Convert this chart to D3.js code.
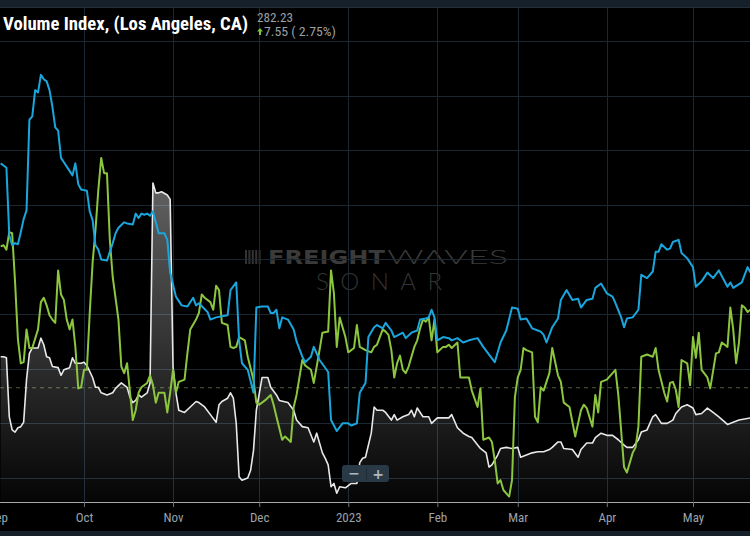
<!DOCTYPE html>
<html>
<head>
<meta charset="utf-8">
<script src="https://cdn.jsdelivr.net/npm/d3@7"></script>
<style>
  html, body { margin: 0; padding: 0; background: #000; }
  svg { display: block; }
</style>
</head>
<body>
<div id="chart"></div>
<script>
// data: [day since 2022-09-01, index value]
const startDate = new Date(Date.UTC(2022, 8, 1));
const tickLabels = ["Sep", "Oct", "Nov", "Dec", "2023", "Feb", "Mar", "Apr", "May"];
const refLevel = 132.6;

const blueSeries = [
  [1,338],[2,336],[3,334],[4,272],[5,263],[6,265],[7,264],[8,275],[9,287],[10,295],[11,378],[12,381],[13,405],[14,403],[15,419],[16,415],[17,413],[18,405],[19,390],[20,371],[21,368],[22,343],[23,339],[24,335],[26,327],[27,338],[28,319],[29,314],[31,313],[32,294],[33,286],[34,263],[35,259],[36,250],[38,249],[40,265],[41,274],[42,279],[44,284],[45,283],[47,282],[48,292],[49,288],[50,292],[51,291],[52,292],[53,290],[54,294],[55,284],[56,274],[58,274],[59,268],[60,238],[62,216],[64,208],[66,207],[68,215],[69,208],[70,210],[73,202],[74,195],[76,197],[80,199],[81,222],[83,229],[84,176],[85,155],[87,149],[89,128],[90,206],[92,207],[94,207],[95,201],[96,201],[97,204],[98,187],[99,197],[101,195],[103,186],[104,175],[106,161],[107,156],[109,161],[110,170],[112,158],[115,147],[116,103],[118,93],[120,100],[122,100],[123,98],[125,100],[126,128],[128,137],[129,179],[131,188],[132,190],[134,187],[135,192],[137,185],[138,179],[141,183],[142,178],[144,183],[146,185],[147,195],[149,196],[150,197],[151,204],[152,197],[153,176],[155,179],[157,178],[158,176],[160,178],[162,174],[164,176],[167,178],[169,170],[171,163],[173,156],[175,174],[177,185],[179,206],[181,205],[182,195],[184,196],[186,187],[188,185],[189,184],[190,181],[191,174],[193,188],[195,196],[196,213],[198,222],[200,213],[202,214],[203,206],[205,213],[207,214],[208,224],[210,228],[212,219],[214,216],[215,210],[217,197],[218,188],[219,196],[221,197],[223,204],[224,236],[226,233],[228,239],[229,257],[230,257],[231,264],[233,259],[234,260],[235,266],[237,268],[238,256],[240,251],[242,243],[243,225],[245,230],[247,238],[249,233],[251,240],[254,225],[255,229],[256,224],[259,229],[261,243],[262,238]
];

const greenSeries = [
  [1,262],[2,263],[3,259],[4,275],[5,274],[6,230],[7,177],[8,155],[9,156],[10,186],[11,169],[12,169],[14,186],[15,211],[16,215],[17,208],[18,199],[19,195],[20,192],[21,240],[22,218],[23,213],[24,195],[25,186],[26,195],[27,170],[28,132],[29,133],[30,149],[31,149],[32,201],[33,247],[34,277],[35,314],[36,343],[37,329],[38,329],[39,268],[40,234],[42,195],[43,152],[44,146],[45,155],[47,103],[48,112],[49,128],[50,133],[52,137],[53,144],[54,135],[55,119],[56,128],[58,128],[59,110],[60,128],[61,149],[62,128],[63,138],[65,140],[66,164],[67,186],[69,195],[70,201],[71,218],[72,215],[74,211],[75,204],[76,226],[77,222],[78,192],[80,190],[81,170],[82,169],[83,170],[84,179],[86,176],[87,161],[89,140],[90,119],[91,117],[93,121],[95,126],[96,117],[97,106],[99,85],[100,88],[102,83],[103,115],[104,126],[106,158],[107,153],[109,149],[110,137],[111,152],[112,167],[113,183],[115,184],[116,240],[117,219],[118,170],[119,197],[121,179],[122,165],[124,169],[125,190],[126,170],[128,167],[130,165],[131,170],[132,172],[134,186],[135,184],[136,181],[137,167],[138,142],[139,155],[140,162],[141,149],[142,146],[143,152],[145,170],[146,176],[147,187],[148,195],[149,193],[150,197],[151,176],[152,195],[153,165],[155,170],[156,170],[157,172],[158,169],[160,174],[161,142],[162,142],[164,142],[165,130],[167,115],[168,132],[169,85],[171,87],[172,83],[173,66],[174,45],[175,48],[176,39],[178,33],[179,48],[180,124],[181,142],[182,149],[183,169],[184,167],[186,165],[187,106],[188,101],[189,133],[190,130],[192,146],[193,169],[195,144],[196,138],[197,119],[199,115],[201,88],[203,112],[204,117],[205,114],[207,97],[208,126],[209,110],[210,138],[212,140],[215,149],[216,126],[218,60],[219,55],[221,73],[222,78],[223,97],[224,161],[226,163],[228,161],[229,169],[230,149],[232,128],[233,120],[234,137],[235,138],[236,131],[237,115],[238,158],[240,155],[241,135],[242,179],[243,160],[244,183],[245,149],[247,142],[248,132],[250,164],[251,165],[252,174],[254,170],[255,206],[256,186],[257,155],[258,174],[259,208],[260,206],[261,202],[262,204]
];

const whiteSeries = [
  [1,161],[2,161],[3,160],[4,106],[5,94],[6,92],[7,96],[8,97],[9,101],[10,140],[11,164],[12,169],[14,169],[15,178],[16,172],[17,161],[18,160],[19,152],[21,151],[22,144],[23,149],[25,151],[26,160],[27,155],[29,155],[30,156],[31,153],[33,142],[34,133],[35,133],[36,128],[38,126],[40,128],[41,132],[43,137],[45,133],[46,124],[47,119],[48,121],[49,126],[50,124],[52,128],[53,137],[54,320],[55,311],[56,311],[57,312],[59,309],[60,305],[61,152],[62,128],[63,112],[65,110],[67,115],[69,120],[70,119],[72,115],[74,108],[76,101],[77,117],[78,120],[80,123],[81,128],[82,123],[83,100],[84,51],[85,48],[87,50],[88,57],[89,75],[90,112],[92,142],[94,142],[95,133],[97,126],[98,121],[101,119],[103,112],[104,103],[106,97],[108,96],[110,83],[111,91],[113,73],[114,68],[115,62],[116,42],[117,45],[118,36],[119,42],[121,41],[123,45],[125,45],[126,64],[127,68],[128,69],[130,91],[131,115],[132,112],[134,112],[135,110],[137,103],[138,108],[139,103],[141,106],[143,108],[144,112],[145,106],[146,114],[148,106],[150,106],[151,100],[153,105],[155,105],[157,105],[158,108],[160,96],[162,91],[164,88],[165,87],[168,77],[170,73],[171,60],[172,62],[174,71],[175,77],[177,78],[179,77],[181,78],[182,69],[184,71],[186,73],[188,74],[190,74],[192,76],[193,78],[195,83],[196,83],[197,77],[200,76],[202,69],[203,76],[205,82],[207,82],[208,87],[210,91],[212,89],[214,89],[216,85],[218,80],[219,78],[221,78],[223,85],[224,92],[226,94],[228,106],[229,108],[231,100],[233,100],[235,103],[236,109],[238,115],[240,117],[242,114],[243,108],[245,109],[247,114],[249,110],[251,106],[254,99],[256,101],[258,103],[262,105]
];

const gridValues = d3.range(50, 451, 50);

// dimensions
const w = 750;
const h = 536;
const plotTop = 7;
const plotBottom = 502;
const condensed = "'Liberation Sans Narrow', 'Roboto Condensed', 'Arial Narrow', Roboto, sans-serif";

const toDate = d => d3.utcDay.offset(startDate, d);

const svg = d3.select("#chart")
  .append("svg")
  .attr("width", w)
  .attr("height", h)
  .style("background", "#000");

// scales
const xScale = d3.scaleUtc()
  .domain([startDate, new Date(Date.UTC(2023, 4, 1))])
  .range([-2.2, 693]);
const yScale = d3.scaleLinear()
  .domain([0, 450])
  .range([532.6, 41]);

// header / footer bands
svg.append("rect").attr("x", 0).attr("y", 0).attr("width", w).attr("height", plotTop).attr("fill", "#16202a");
svg.append("rect").attr("x", 0).attr("y", 531).attr("width", w).attr("height", 5).attr("fill", "#16202a");

const defs = svg.append("defs");
defs.append("clipPath").attr("id", "plotClip")
  .append("rect").attr("x", 0).attr("y", plotTop).attr("width", w).attr("height", plotBottom - plotTop);
const grad = defs.append("linearGradient")
  .attr("id", "areaFill")
  .attr("gradientUnits", "userSpaceOnUse")
  .attr("x1", 0).attr("y1", 150).attr("x2", 0).attr("y2", plotBottom);
grad.append("stop").attr("offset", 0).attr("stop-color", "#fff").attr("stop-opacity", 0.42);
grad.append("stop").attr("offset", 1).attr("stop-color", "#fff").attr("stop-opacity", 0.02);

// watermark
const wm = svg.append("g").attr("fill", "#3a3a3a");
[0, 1, 2, 3, 4].forEach(i => {
  wm.append("rect").attr("x", 245 + i * 3.4).attr("y", 250).attr("width", 2).attr("height", 14).attr("fill", "#333");
});
wm.append("text").attr("x", 268).attr("y", 264)
  .attr("font-family", "'DejaVu Sans', sans-serif").attr("font-weight", 900)
  .attr("font-size", 20).attr("textLength", 117).attr("lengthAdjust", "spacingAndGlyphs")
  .text("FREIGHT");
wm.append("text").attr("x", 387).attr("y", 264)
  .attr("font-family", "Lato, 'Open Sans', sans-serif").attr("font-weight", 300)
  .attr("font-size", 20).attr("textLength", 121).attr("lengthAdjust", "spacingAndGlyphs")
  .text("WAVES");
wm.append("text").attr("x", 316).attr("y", 290)
  .attr("font-family", "Lato, 'Open Sans', sans-serif").attr("font-weight", 300)
  .attr("font-size", 24).attr("textLength", 126).attr("lengthAdjust", "spacing")
  .attr("fill", "#333")
  .text("SONAR");

// grid
const grid = svg.append("g").attr("stroke", "#1b2731").attr("stroke-width", 1);
grid.selectAll("line.h")
  .data(gridValues)
  .enter().append("line")
  .attr("x1", 0).attr("x2", w)
  .attr("y1", d => Math.round(yScale(d)) + 0.5)
  .attr("y2", d => Math.round(yScale(d)) + 0.5);
grid.selectAll("line.v")
  .data(d3.utcMonth.range(startDate, new Date(Date.UTC(2023, 5, 1))))
  .enter().append("line")
  .attr("x1", d => Math.round(xScale(d)) + 0.5)
  .attr("x2", d => Math.round(xScale(d)) + 0.5)
  .attr("y1", plotTop).attr("y2", plotBottom);
grid.append("line").attr("x1", 0).attr("x2", w).attr("y1", plotTop + 0.5).attr("y2", plotTop + 0.5).attr("stroke", "#222e38");

// reference dashed line
svg.append("line")
  .attr("x1", 0).attr("x2", w)
  .attr("y1", yScale(refLevel)).attr("y2", yScale(refLevel))
  .attr("stroke", "#4f5e3c").attr("stroke-width", 1)
  .attr("stroke-dasharray", "4,4");

// series
const plot = svg.append("g").attr("clip-path", "url(#plotClip)");

const line = d3.line()
  .x(d => xScale(toDate(d[0])))
  .y(d => yScale(d[1]));
const area = d3.area()
  .x(d => xScale(toDate(d[0])))
  .y0(plotBottom)
  .y1(d => yScale(d[1]));

plot.append("path").datum(whiteSeries)
  .attr("d", area).attr("fill", "url(#areaFill)");
plot.append("path").datum(whiteSeries)
  .attr("d", line).attr("fill", "none")
  .attr("stroke", "#e8e8e8").attr("stroke-width", 1.6).attr("stroke-linejoin", "round");
plot.append("path").datum(greenSeries)
  .attr("d", line).attr("fill", "none")
  .attr("stroke", "#8cc63e").attr("stroke-width", 2).attr("stroke-linejoin", "round");
plot.append("path").datum(blueSeries)
  .attr("d", line).attr("fill", "none")
  .attr("stroke", "#1aa6dd").attr("stroke-width", 2).attr("stroke-linejoin", "round");

// X axis
const tickDates = d3.utcMonth.range(startDate, new Date(Date.UTC(2023, 5, 1)));
const xAxis = d3.axisBottom(xScale)
  .tickValues(tickDates)
  .tickSize(5)
  .tickFormat((d, i) => tickLabels[i]);
const xg = svg.append("g")
  .attr("transform", `translate(0, ${plotBottom})`)
  .call(xAxis);
xg.select(".domain").attr("stroke", "#a8a8a8").attr("d", `M0,0.5H${w}`);
xg.selectAll(".tick line").attr("stroke", "#6b7580");
xg.selectAll(".tick text")
  .attr("fill", "#9aa3ac")
  .attr("font-family", condensed)
  .attr("font-size", 13)
  .attr("dy", "0.95em");

// zoom buttons
const zb = svg.append("g");
zb.append("rect").attr("x", 342).attr("y", 465).attr("width", 47).attr("height", 17).attr("rx", 3).attr("fill", "#2a3946");
zb.append("line").attr("x1", 366.5).attr("x2", 366.5).attr("y1", 467).attr("y2", 480).attr("stroke", "#1f2b36");
zb.append("text").attr("x", 354).attr("y", 478).attr("text-anchor", "middle")
  .attr("fill", "#aeb8c2").attr("font-family", "'DejaVu Sans', sans-serif").attr("font-size", 14).attr("font-weight", 700).text("−");
zb.append("text").attr("x", 378).attr("y", 478.5).attr("text-anchor", "middle")
  .attr("fill", "#aeb8c2").attr("font-family", "'DejaVu Sans', sans-serif").attr("font-size", 14).attr("font-weight", 700).text("+");

// title / legend
svg.append("text").attr("x", 3).attr("y", 30)
  .attr("fill", "#fff").attr("font-family", condensed).attr("font-weight", 700)
  .attr("font-size", 19).attr("textLength", 245).attr("lengthAdjust", "spacingAndGlyphs")
  .text("Volume Index, (Los Angeles, CA)");
svg.append("text").attr("x", 257).attr("y", 22)
  .attr("fill", "#9aa0a6").attr("font-family", condensed)
  .attr("font-size", 12.5).attr("textLength", 36).attr("lengthAdjust", "spacingAndGlyphs")
  .text("282.23");
svg.append("path")
  .attr("d", "M260,28 L263,31.5 L261,31.5 L261,35 L259,35 L259,31.5 L257,31.5 Z")
  .attr("fill", "#7cc142");
svg.append("text").attr("x", 264).attr("y", 36)
  .attr("fill", "#9aa0a6").attr("font-family", condensed)
  .attr("font-size", 12.5).attr("textLength", 72).attr("lengthAdjust", "spacingAndGlyphs")
  .text("7.55 ( 2.75%)");
</script>
</body>
</html>
